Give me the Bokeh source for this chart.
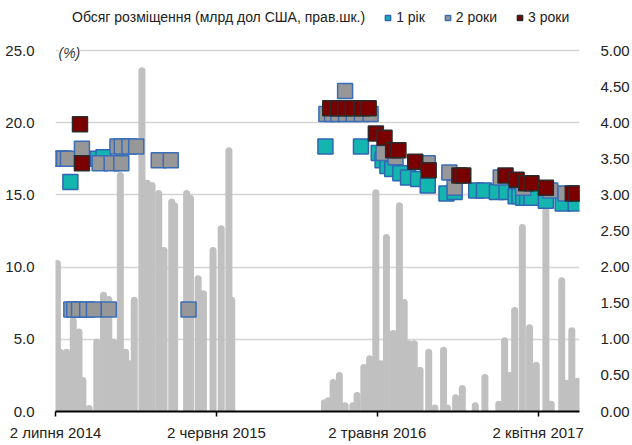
import pandas as pd
from bokeh.plotting import figure
from bokeh.models import (Range1d, LinearAxis, FixedTicker, PrintfTickFormatter,
                          Legend, LegendItem, Label, ColumnDataSource)
from bokeh.embed import file_html
from bokeh.resources import INLINE

FONT = "Liberation Sans"

# ---- data ----
vol_dates = ["2014-07-06", "2014-07-12", "2014-07-25", "2014-08-08", "2014-08-20", "2014-08-28",
             "2014-09-10", "2014-09-26", "2014-10-10", "2014-10-21", "2014-10-31", "2014-11-14",
             "2014-11-25", "2014-12-03", "2014-12-13", "2014-12-29", "2015-01-09", "2015-01-19",
             "2015-02-02", "2015-02-13", "2015-03-01", "2015-03-07", "2015-04-01", "2015-04-09",
             "2015-04-25", "2015-05-06",
             "2015-05-26", "2015-06-12", "2015-06-28", "2015-07-04",
             "2016-01-13", "2016-01-21", "2016-01-31", "2016-02-13", "2016-02-25", "2016-03-12",
             "2016-03-21", "2016-04-04", "2016-04-16", "2016-04-29", "2016-05-09", "2016-05-21",
             "2016-06-04", "2016-06-17", "2016-06-27", "2016-07-07", "2016-07-18", "2016-07-30",
             "2016-08-17", "2016-08-30", "2016-09-17", "2016-09-25", "2016-10-12", "2016-10-26",
             "2016-11-22", "2016-12-12", "2017-01-10", "2017-01-22", "2017-02-02", "2017-02-12",
             "2017-02-28", "2017-03-15", "2017-03-29", "2017-04-18", "2017-04-29", "2017-05-21",
             "2017-05-31", "2017-06-11", "2017-06-23"]
vol_values = [2.05, 0.82, 0.82, 1.26, 1.10, 0.43,
              0.04, 0.96, 1.61, 1.55, 0.96, 3.27,
              0.82, 0.66, 1.54, 4.72, 3.16, 3.13,
              3.02, 2.23, 2.90, 2.85, 3.02, 2.95,
              1.84, 1.63,
              2.23, 2.53, 3.61, 1.54,
              0.12, 0.15, 0.40, 0.50, 0.08, 0.08,
              0.22, 0.61, 0.73, 3.03, 0.66, 2.41,
              1.08, 2.85, 1.51, 0.94, 0.94, 0.57,
              0.82, 0.05, 0.85, 0.05, 0.19, 0.32,
              0.08, 0.47, 0.10, 0.98, 0.50, 1.40,
              2.55, 1.16, 0.64, 2.95, 0.10, 1.81,
              0.39, 1.12, 0.42]

y1_dates = ["2014-08-02", "2014-09-28", "2014-10-10",
            "2016-01-15", "2016-03-29", "2016-05-05", "2016-05-13", "2016-05-23", "2016-06-02",
            "2016-06-19", "2016-07-05", "2016-07-26", "2016-08-15", "2016-09-23", "2016-10-10",
            "2016-11-24", "2016-12-10", "2017-01-06", "2017-01-26", "2017-02-14", "2017-02-22",
            "2017-03-02", "2017-03-10", "2017-03-19", "2017-04-18", "2017-05-23", "2017-06-19"]
y1_values = [15.9, 17.5, 17.6,
             18.35, 18.35, 17.9, 17.4, 17.0, 16.8,
             16.5, 16.2, 16.1, 15.65, 15.1, 15.2,
             15.3, 15.3, 15.2, 15.2, 14.9, 14.9,
             14.8, 14.8, 14.8, 14.6, 14.4, 14.4]

y2_dates = ["2014-07-08", "2014-07-12", "2014-07-16", "2014-07-20", "2014-07-28", "2014-08-26",
            "2014-08-04", "2014-08-10", "2014-08-20", "2014-09-06", "2014-09-20", "2014-10-21",
            "2014-10-02", "2014-10-27", "2014-11-16", "2014-11-08", "2014-11-17", "2014-12-03",
            "2014-12-17", "2015-02-02", "2015-02-27", "2015-04-05",
            "2016-01-17", "2016-01-29", "2016-02-11", "2016-02-27", "2016-03-14", "2016-03-31",
            "2016-04-18", "2016-02-25", "2016-05-15", "2016-06-09", "2016-08-15", "2016-09-29",
            "2016-10-10", "2017-01-14", "2017-03-02", "2017-04-27", "2017-05-29"]
y2_values = [17.5, 17.5, 17.5, 17.5, 17.5, 18.2,
             7.06, 7.06, 7.06, 7.06, 7.06, 7.06,
             17.2, 17.2, 17.2, 18.35, 18.35, 18.35,
             18.35, 17.4, 17.4, 7.06,
             20.6, 20.6, 20.6, 20.6, 20.6, 20.6,
             20.6, 22.2, 17.9, 17.6, 17.2, 16.55,
             15.5, 16.2, 15.5, 15.3, 15.1]

y3_dates = ["2014-08-22", "2014-08-26",
            "2016-01-25", "2016-02-10", "2016-02-25", "2016-03-12", "2016-03-31", "2016-04-14",
            "2016-04-29", "2016-05-17", "2016-06-04", "2016-06-15", "2016-07-20", "2016-08-17",
            "2016-10-20", "2016-10-28", "2017-01-24", "2017-02-16", "2017-03-08", "2017-03-19",
            "2017-04-18", "2017-06-13", "2017-06-21"]
y3_values = [19.9, 17.2,
             21.0, 21.0, 21.0, 21.0, 21.0, 21.0,
             19.25, 18.95, 18.1, 18.1, 17.3, 16.7,
             16.35, 16.35, 16.35, 16.05, 15.8, 15.8,
             15.5, 15.1, 15.1]

x_tick_dates = ["2014-07-02", "2015-06-02", "2016-05-02", "2017-04-02"]
x_tick_labels = ["2 липня 2014", "2 червня 2015", "2 травня 2016", "2 квітня 2017"]
left_ticks = [0, 5, 10, 15, 20, 25]
right_ticks = [0, 0.5, 1, 1.5, 2, 2.5, 3, 3.5, 4, 4.5, 5]

series_names = ["Обсяг розміщення (млрд дол США, прав.шк.)", "1 рік", "2 роки", "3 роки"]

# ---- figure ----
# the frame reaches the top of the figure (the legend sits in its upper strip);
# 25.0 / 5.00 lie 50px below the frame top
FRAME_H = 411
top_left = 25 * FRAME_H / (FRAME_H - 50)
top_right = 5 * FRAME_H / (FRAME_H - 50)

p = figure(width=632, height=445, x_axis_type="datetime", output_backend="svg",
           toolbar_location=None,
           x_range=Range1d(pd.Timestamp("2014-07-02"), pd.Timestamp("2017-06-27")),
           y_range=Range1d(0, top_left),
           min_border_left=55, min_border_right=45, min_border_top=0, min_border_bottom=34)
p.outline_line_color = None
p.background_fill_color = "white"
p.extra_y_ranges = {"vol": Range1d(0, top_right)}

vol_src = ColumnDataSource(dict(x=pd.to_datetime(vol_dates), y0=[0] * len(vol_values), y1=vol_values))
bars = p.segment(x0="x", y0="y0", x1="x", y1="y1", source=vol_src, y_range_name="vol",
                 line_color="#C0C0C0", line_width=7, line_cap="round")
bar_leg = p.scatter(x=[], y=[], marker="square", size=13, fill_color="#C0C0C0",
                    line_color="#C0C0C0", y_range_name="vol")

r1 = p.scatter(x=pd.to_datetime(y1_dates), y=y1_values, marker="square", size=15,
               fill_color="#13B5AE", line_color="#2F66B3", line_width=1.5)
r2 = p.scatter(x=pd.to_datetime(y2_dates), y=y2_values, marker="square", size=15,
               fill_color="#979797", line_color="#3A6DB6", line_width=1.5)
r3 = p.scatter(x=pd.to_datetime(y3_dates), y=y3_values, marker="square", size=15,
               fill_color="#7A0000", line_color="#2B2B2B", line_width=1.5)

# axes
xa = p.xaxis[0]
tick_ms = [int(pd.Timestamp(d).value // 10**6) for d in x_tick_dates]
xa.ticker = FixedTicker(ticks=tick_ms)
xa.major_label_overrides = {t: lab for t, lab in zip(tick_ms, x_tick_labels)}
xa.axis_line_color = "black"
xa.axis_line_width = 2
xa.major_tick_in = 0
xa.major_tick_out = 5
xa.major_tick_line_color = "black"
xa.major_tick_line_width = 1.5
xa.minor_tick_line_color = None
xa.major_label_standoff = 7

ya = p.yaxis[0]
ya.ticker = FixedTicker(ticks=left_ticks)
ya.formatter = PrintfTickFormatter(format="%.1f")
ya.axis_line_color = None
ya.major_tick_line_color = None
ya.minor_tick_line_color = None
ya.major_label_standoff = 15

ra = LinearAxis(y_range_name="vol", ticker=FixedTicker(ticks=right_ticks),
                formatter=PrintfTickFormatter(format="%.2f"))
ra.axis_line_color = None
ra.major_tick_line_color = None
ra.minor_tick_line_color = None
ra.major_label_standoff = 15
p.add_layout(ra, "right")

for ax in (xa, ya, ra):
    ax.major_label_text_font = FONT
    ax.major_label_text_font_size = "15px"
    ax.major_label_text_color = "#222222"

p.xgrid.grid_line_color = None
p.ygrid.ticker = FixedTicker(ticks=left_ticks)
p.ygrid.grid_line_color = "#D4D4D4"
p.ygrid.grid_line_width = 1.5

pct = Label(x=3, y=359, x_units="screen", y_units="screen", text="(%)",
            text_font=FONT, text_font_style="italic", text_font_size="14px",
            text_color="#333333", text_baseline="middle",
            background_fill_color="white", background_fill_alpha=1.0)
p.add_layout(pct)

legend = Legend(items=[LegendItem(label=series_names[0], renderers=[bar_leg]),
                       LegendItem(label=series_names[1], renderers=[r1]),
                       LegendItem(label=series_names[2], renderers=[r2]),
                       LegendItem(label=series_names[3], renderers=[r3])],
                orientation="horizontal", location=(2, 386),
                label_text_font=FONT, label_text_font_size="14px", label_text_color="#222222",
                glyph_width=13, glyph_height=13, label_standoff=2, spacing=16,
                label_height=15, padding=0, margin=0, border_line_color=None,
                background_fill_alpha=0)
p.add_layout(legend)

open("out.html", "w").write(file_html(p, INLINE))
